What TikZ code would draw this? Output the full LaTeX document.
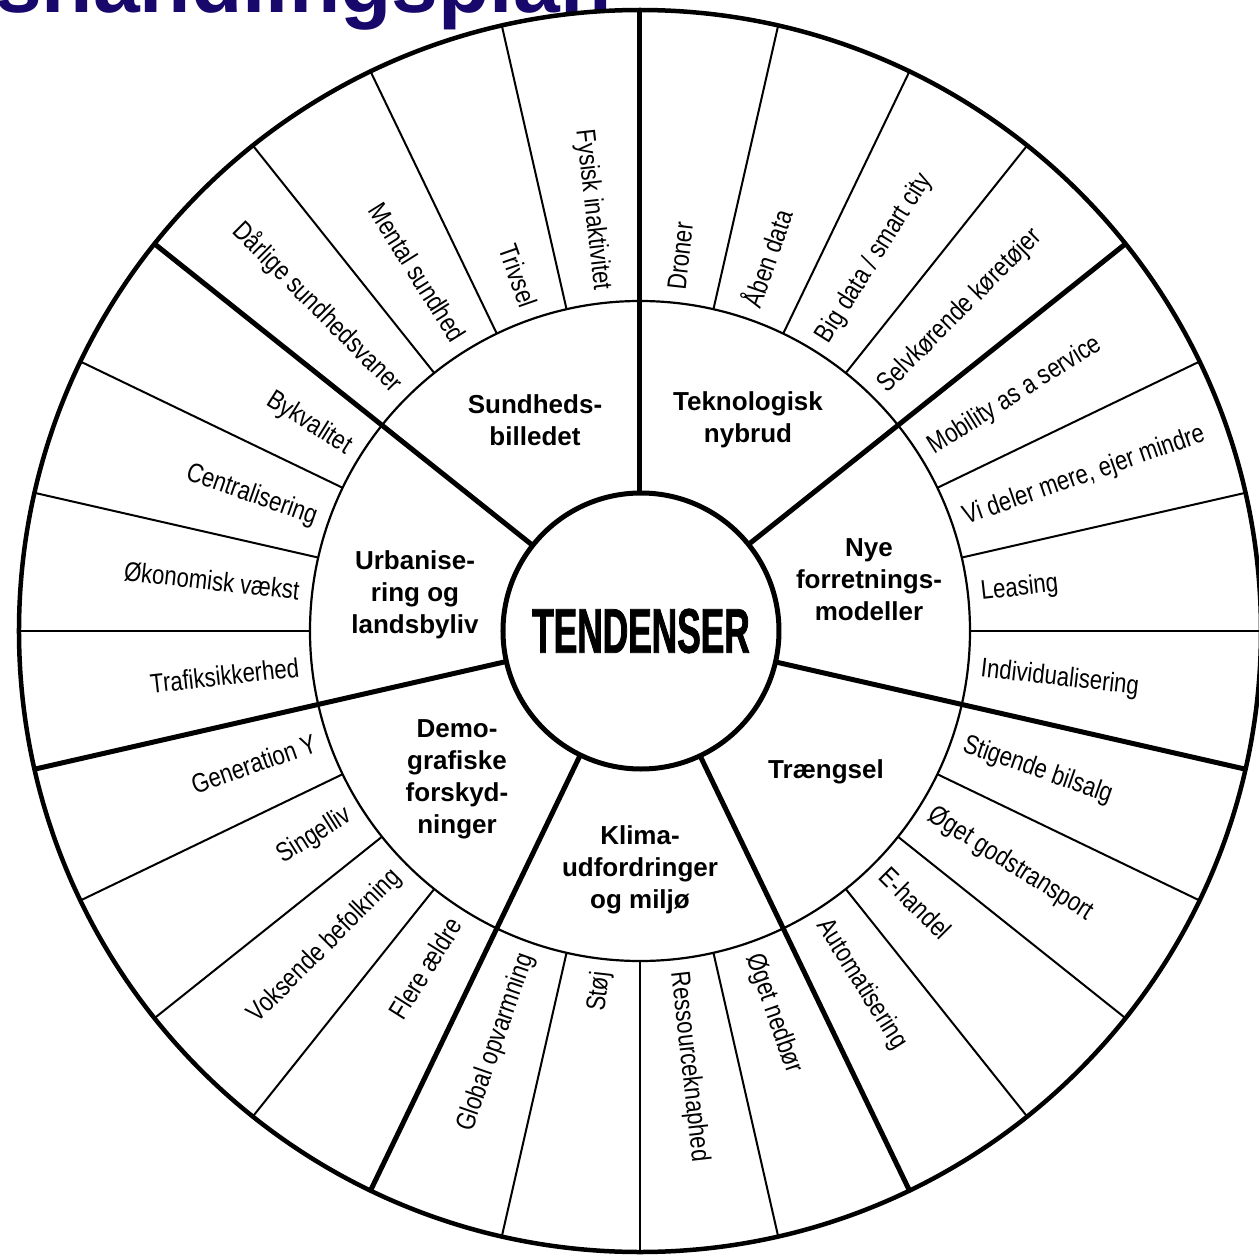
\documentclass[tikz,border=0pt]{standalone}
\usepackage{fontspec}
\setmainfont{Liberation Sans}
\newfontfamily\narrowfont[FakeStretch=0.82]{Liberation Sans}
\newfontfamily\condfont[FakeStretch=0.56,FakeBold=1.2]{Liberation Sans Bold}
\definecolor{titleblue}{RGB}{24,8,108}
\begin{document}
\begin{tikzpicture}[x=1pt,y=1pt,
  slot/.style={font=\narrowfont\fontsize{27}{31}\selectfont, inner sep=0pt, text height=19.5pt, text depth=5pt},
  cat/.style={font=\bfseries\fontsize{26}{32}\selectfont, align=center, inner sep=0pt},
  thickline/.style={line width=5pt},
  thinline/.style={line width=2pt}]
\useasboundingbox (-640,-623) rectangle (619,631);
\fill[white] (-640,-623) rectangle (619,631);
% title (clipped at top edge)
\begin{scope}
\clip (-640,-623) rectangle (619,631);
\node[anchor=base west, text=titleblue, font=\bfseries\fontsize{84}{84}\selectfont, inner sep=0pt] (title) at (-645,618) {shandlingsplan};
\end{scope}
% rings
\draw[line width=4.5pt] (0,0) circle (621);
\draw[line width=2.2pt] (0,0) circle (330);
% thin slot dividers
\foreach \i in {1,2,3,5,6,7,9,10,11,13,14,15,17,18,19,21,22,23,25,26,27}{
  \pgfmathsetmacro\a{90-\i*360/28}
  \draw[thinline] (\a:330) -- (\a:621);
}
% thick sector dividers
\foreach \k in {0,...,6}{
  \pgfmathsetmacro\a{90-\k*360/7}
  \draw[thickline] (\a:137) -- (\a:621);
}
% centre
\node[circle, draw, line width=5pt, fill=white, minimum size=276pt, inner sep=0pt] (center) at (1,0)
  {\condfont\fontsize{63}{63}\selectfont TENDENSER};
% slot labels
\foreach \t [count=\j from 0] in {Droner, Åben data, Big data / smart city, Selvkørende køretøjer,
  Mobility as a service, {Vi deler mere, ejer mindre}, Leasing, Individualisering,
  Stigende bilsalg, Øget godstransport, E-handel, Automatisering,
  Øget nedbør, Ressourceknaphed, Støj, Global opvarmning,
  Flere ældre, Voksende befolkning, Singelliv, Generation Y,
  Trafiksikkerhed, Økonomisk vækst, Centralisering, Bykvalitet,
  Dårlige sundhedsvaner, Mental sundhed, Trivsel, Fysisk inaktivitet}{
  \pgfmathsetmacro\a{90-(\j+0.5)*360/28}
  \ifdim \a pt > -90pt
    \node[slot, rotate=\a, anchor=west] (s\j) at (\a:343) {\t};
  \else
    \pgfmathsetmacro\b{\a+180}
    \node[slot, rotate=\b, anchor=east] (s\j) at (\a:343) {\t};
  \fi
}
% category labels
\node[cat] (sund) at (-105,211) {Sundheds-\\billedet};
\node[cat] (tek) at (108,211) {Teknologisk\\nybrud};
\node[cat] (nye) at (229,51) {Nye\\forretnings-\\modeller};
\node[cat] (traeng) at (186,-141) {Trængsel};
\node[cat] (klima) at (0,-239) {Klima-\\udfordringer\\og miljø};
\node[cat] (demo) at (-183,-148) {Demo-\\grafiske\\forskyd-\\ninger};
\node[cat] (urban) at (-225,36) {Urbanise-\\ring og\\landsbyliv};
\end{tikzpicture}
\end{document}
